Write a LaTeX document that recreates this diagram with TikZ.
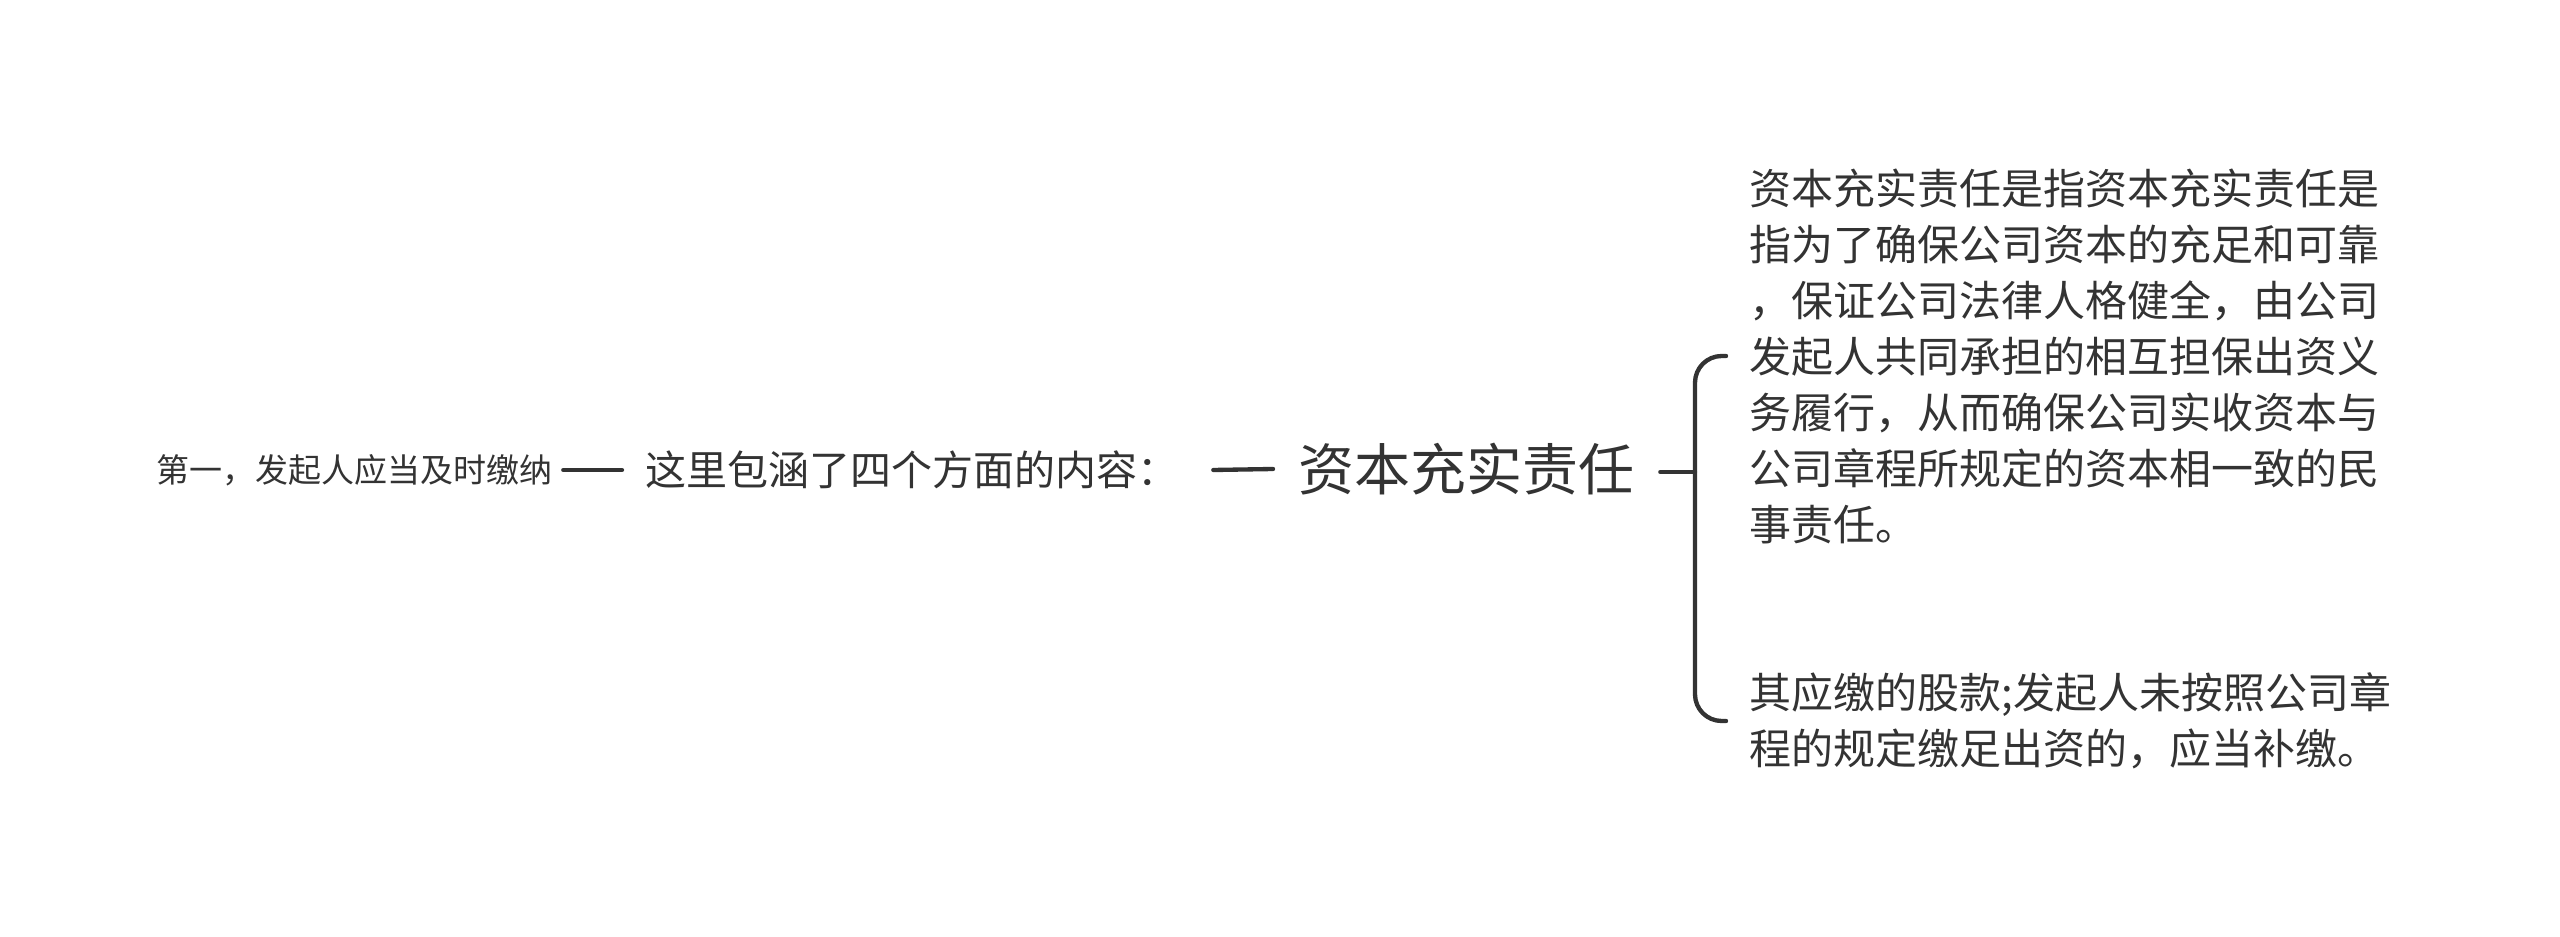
\documentclass[tikz,border=0pt]{standalone}
\usepackage{fontspec}
\setmainfont{Noto Sans CJK SC}
\usepackage{tikz}
\usetikzlibrary{positioning}
\definecolor{inkgray}{HTML}{333333}
\tikzset{topic/.style={inner sep=0pt, text=inkgray, anchor=west},
  link/.style={draw=inkgray, line width=1.3pt}}

\begin{document}
\begin{tikzpicture}[line cap=round,line join=round,x=0.3pt,y=-0.3pt]
\useasboundingbox (0,0) rectangle (2560,937);
\node[topic, font=\fontsize{16.8}{20}\selectfont] (root) at (1298,469) {资本充实责任};
\node[topic, font=\fontsize{12.3}{15}\selectfont] (mid) at (645,470) {这里包涵了四个方面的内容：};
\node[topic, font=\fontsize{9.9}{12}\selectfont] (left) at (156,470) {第一，发起人应当及时缴纳};
\node[topic, font=\fontsize{12.6}{16.8}\selectfont, align=left] (t1) at (1749,356) {资本充实责任是指资本充实责任是\\指为了确保公司资本的充足和可靠\\，保证公司法律人格健全，由公司\\发起人共同承担的相互担保出资义\\务履行，从而确保公司实收资本与\\公司章程所规定的资本相一致的民\\事责任。};
\node[topic, font=\fontsize{12.6}{16.8}\selectfont, align=left] (t2) at (1749,721) {其应缴的股款;发起人未按照公司章\\程的规定缴足出资的，应当补缴。};
\coordinate (fork) at (1695,472);
\draw[link] ([xshift=3pt]left.east) -- ([xshift=-6.9pt]mid.west);
\draw[link] ([xshift=10.2pt]mid.east) -- ([xshift=-7.5pt]root.west);
\draw[link] ([xshift=7.5pt]root.east|-fork) -- (fork);
\draw[link, rounded corners=8pt] ([xshift=-6.9pt]t1.west) -| (fork) |- ([xshift=-6.9pt]t2.west);
\end{tikzpicture}
\end{document}
